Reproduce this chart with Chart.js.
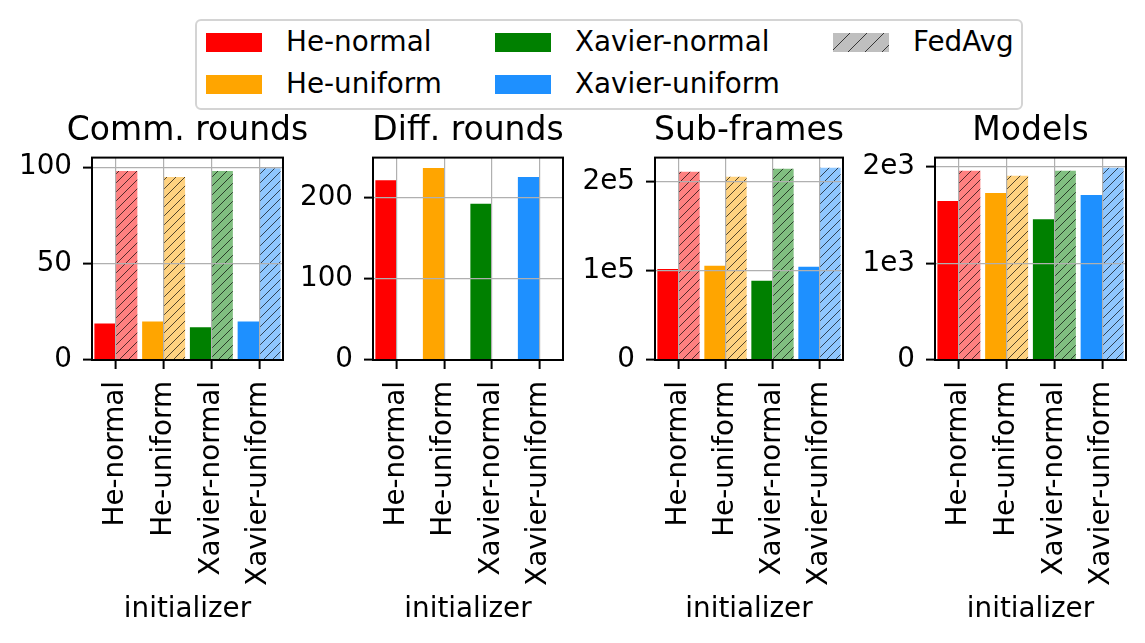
<!DOCTYPE html>
<html lang="en">
<head>
    <meta charset="UTF-8">
    <title>Initializer comparison</title>
    <script src="https://cdn.jsdelivr.net/npm/chart.js@4.4.1/dist/chart.umd.min.js"></script>
    <style>
        body {
            margin: 0;
            background: #fff;
            font-family: "DejaVu Sans", sans-serif;
        }
        #fig {
            position: relative;
            width: 1145px;
            height: 643px;
            overflow: hidden;
        }
        #fig canvas.panel {
            position: absolute;
            top: 0;
        }
        .legend {
            position: absolute;
            left: 195px;
            top: 19px;
            width: 824px;
            height: 87px;
            border: 2px solid #d4d4d4;
            border-radius: 6px;
            background: #fff;
        }
        .legend .swatch {
            position: absolute;
            width: 56px;
            height: 19px;
        }
        .legend .label {
            position: absolute;
            font-size: 27.8px;
            line-height: 30px;
            color: #000;
            white-space: nowrap;
        }
    </style>
</head>
<body>
<div id="fig">
    <div class="legend" id="legend"></div>
</div>

<script>
    // ---- data ----
    const initializers = ['He-normal', 'He-uniform', 'Xavier-normal', 'Xavier-uniform'];
    const initColors = ['#ff0000', '#ffa500', '#008000', '#1e90ff'];
    const fedAvgColors = ['#ff8080', '#ffd280', '#80bf80', '#8fc7ff'];

    const commRounds = [19, 20, 17, 20];
    const commRoundsFedAvg = [98, 95, 98, 99.5];
    const commTickValues = [0, 50, 100];
    const commTicks = ['0', '50', '100'];

    const diffRounds = [222, 237, 193, 226];
    const diffRoundsFedAvg = [null, null, null, null];
    const diffTickValues = [0, 100, 200];
    const diffTicks = ['0', '100', '200'];

    const subFrames = [102000, 105600, 88800, 104500];
    const subFramesFedAvg = [211000, 205600, 214600, 215700];
    const subFrameTickValues = [0, 100000, 200000];
    const subFrameTicks = ['0', '1e5', '2e5'];

    const models = [1646, 1729, 1458, 1708];
    const modelsFedAvg = [1958, 1906, 1958, 1990];
    const modelTickValues = [0, 1000, 2000];
    const modelTicks = ['0', '1e3', '2e3'];

    const FONT = 'DejaVu Sans';

    // hatch fill '//' like matplotlib
    function hatch(color, size, lineColor) {
        const c = document.createElement('canvas');
        c.width = size; c.height = size;
        const g = c.getContext('2d');
        g.fillStyle = color;
        g.fillRect(0, 0, size, size);
        g.strokeStyle = lineColor;
        g.lineWidth = 0.9;
        g.beginPath();
        g.moveTo(0, size); g.lineTo(size, 0);
        g.moveTo(-size / 2, size / 2); g.lineTo(size / 2, -size / 2);
        g.moveTo(size / 2, size * 1.5); g.lineTo(size * 1.5, size / 2);
        g.stroke();
        return g.createPattern(c, 'repeat');
    }

    // black box around the axes
    const frame = {
        id: 'frame',
        afterDraw(chart) {
            const a = chart.chartArea, ctx = chart.ctx;
            ctx.save();
            ctx.strokeStyle = '#000';
            ctx.lineWidth = 2;
            ctx.strokeRect(a.left, a.top, a.right - a.left, a.bottom - a.top);
            ctx.restore();
        }
    };

    const panels = [
        {title: 'Comm. rounds', mine: commRounds, fed: commRoundsFedAvg, tickValues: commTickValues, ticks: commTicks, max: 105, left: 92, right: 283},
        {title: 'Diff. rounds', mine: diffRounds, fed: diffRoundsFedAvg, tickValues: diffTickValues, ticks: diffTicks, max: 250, left: 373, right: 563},
        {title: 'Sub-frames', mine: subFrames, fed: subFramesFedAvg, tickValues: subFrameTickValues, ticks: subFrameTicks, max: 227000, left: 655, right: 843},
        {title: 'Models', mine: models, fed: modelsFedAvg, tickValues: modelTickValues, ticks: modelTicks, max: 2095, left: 935, right: 1126}
    ];

    const fig = document.getElementById('fig');
    const yAxisW = 90;   // same blank width on the right keeps the title centred on the axes

    panels.forEach(p => {
        const cv = document.createElement('canvas');
        cv.className = 'panel';
        cv.width = p.right - p.left + 2 * yAxisW;
        cv.height = 643;
        cv.style.left = (p.left - yAxisW) + 'px';
        fig.insertBefore(cv, fig.firstChild);

        new Chart(cv, {
            type: 'bar',
            data: {
                labels: initializers,
                datasets: [{
                    label: 'initializer',
                    data: p.mine,
                    backgroundColor: initColors,
                    categoryPercentage: 0.9,
                    barPercentage: 1.0
                }, {
                    label: 'FedAvg',
                    data: p.fed,
                    backgroundColor: fedAvgColors.map(c => hatch(c, 9, 'rgba(0,0,0,0.75)')),
                    categoryPercentage: 0.9,
                    barPercentage: 1.0
                }]
            },
            options: {
                responsive: false,
                animation: false,
                plugins: {
                    legend: {display: false},
                    tooltip: {enabled: false},
                    title: {
                        display: true,
                        text: p.title,
                        color: '#000',
                        font: {family: FONT, size: 33, weight: 'normal'},
                        padding: {top: 112, bottom: 6}
                    }
                },
                scales: {
                    x: {
                        grid: {offset: false, z: 1, color: '#b0b0b0', lineWidth: 1.2,
                               tickColor: '#000', tickLength: 9, tickWidth: 2},
                        border: {display: false},
                        ticks: {minRotation: 90, maxRotation: 90, autoSkip: false, padding: 12,
                                color: '#000', font: {family: FONT, size: 27.8}},
                        title: {display: true, text: 'initializer', color: '#000',
                                font: {family: FONT, size: 27.8}, padding: {top: 0, bottom: 17}},
                        afterFit(s) { s.height = 643 - 360; }
                    },
                    y: {
                        min: 0,
                        max: p.max,
                        grid: {z: 1, color: '#b0b0b0', lineWidth: 1.2,
                               tickColor: '#000', tickLength: 9, tickWidth: 2},
                        border: {display: false},
                        ticks: {autoSkip: false, padding: 11,
                                color: '#000', font: {family: FONT, size: 27.8},
                                callback: (v, i) => p.ticks[i]},
                        afterBuildTicks(s) { s.ticks = p.tickValues.map(v => ({value: v})); },
                        afterFit(s) { s.width = yAxisW; }
                    },
                    yPad: {
                        position: 'right',
                        grid: {display: false},
                        border: {display: false},
                        ticks: {display: false},
                        afterFit(s) { s.width = yAxisW; }
                    }
                }
            },
            plugins: [frame]
        });
    });

    // ---- legend (column-major, 2 rows) ----
    const legend = document.getElementById('legend');
    const legendItems = initializers.map((name, i) => ({name, color: initColors[i]}));
    legendItems.push({name: 'FedAvg', hatched: true});
    const colX = [9, 298, 636];      // swatch left inside legend box
    const rowY = [12, 54];           // swatch top inside legend box
    legendItems.forEach((it, i) => {
        const col = Math.floor(i / 2), row = i % 2;
        let sw;
        if (it.hatched) {
            sw = document.createElement('canvas');
            sw.width = 56; sw.height = 19;
            const g = sw.getContext('2d');
            g.fillStyle = hatch('#bfbfbf', 17, 'rgba(0,0,0,0.8)');
            g.fillRect(0, 0, 56, 19);
        } else {
            sw = document.createElement('div');
            sw.style.background = it.color;
        }
        sw.className = 'swatch';
        sw.style.left = colX[col] + 'px';
        sw.style.top = rowY[row] + 'px';
        legend.appendChild(sw);
        const lb = document.createElement('div');
        lb.className = 'label';
        lb.textContent = it.name;
        lb.style.left = (colX[col] + 80) + 'px';
        lb.style.top = (rowY[row] - 6) + 'px';
        legend.appendChild(lb);
    });
</script>
</body>
</html>
